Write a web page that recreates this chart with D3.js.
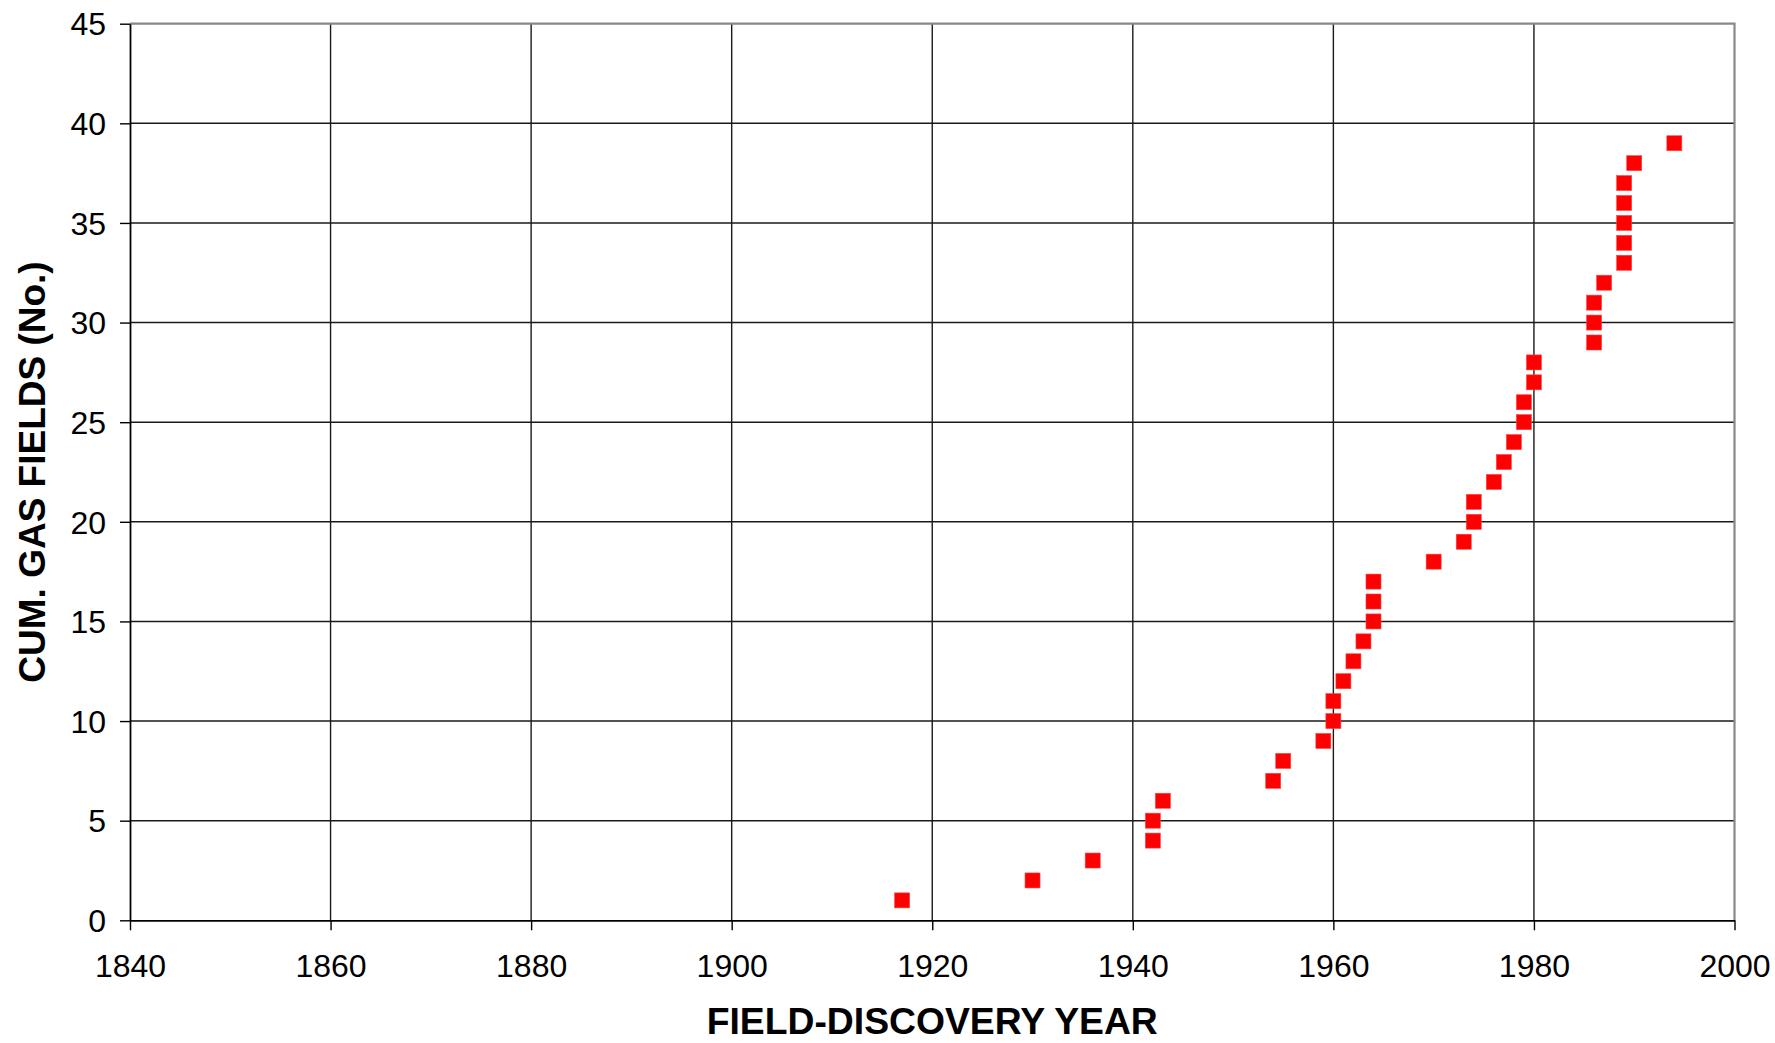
<!DOCTYPE html>
<html><head><meta charset="utf-8">
<script src="https://cdn.jsdelivr.net/npm/d3@7"></script>
<style>body{margin:0;background:#fff}svg{display:block}</style>
</head><body>
<script>
const years = [1917,1930,1936,1942,1942,1943,1954,1955,1959,1960,1960,1961,1962,1963,1964,1964,1964,1970,1973,1974,1974,1976,1977,1978,1979,1979,1980,1980,1986,1986,1986,1987,1989,1989,1989,1989,1989,1990,1994];
const cumFields = [1,2,3,4,5,6,7,8,9,10,11,12,13,14,15,16,17,18,19,20,21,22,23,24,25,26,27,28,29,30,31,32,33,34,35,36,37,38,39];
const xTicks = [1840,1860,1880,1900,1920,1940,1960,1980,2000];
const yTicks = [0,5,10,15,20,25,30,35,40,45];
const xTitle = "FIELD-DISCOVERY YEAR";
const yTitle = "CUM. GAS FIELDS (No.)";

const W=1775,H=1043;
const L=130,R=1734.5,T=23.7,B=920.3;
const svg=d3.select("body").append("svg").attr("width",W).attr("height",H);
const x=d3.scaleLinear().domain([1840,2000]).range([L,R]);
const y=d3.scaleLinear().domain([0,45]).range([B,T]);

// grid
svg.append("g").selectAll("line").data(yTicks.filter(d=>d>0&&d<45)).join("line")
 .attr("x1",L).attr("x2",R).attr("y1",d=>y(d)).attr("y2",d=>y(d))
 .attr("stroke","#1a1a1a").attr("stroke-width",1.4);
svg.append("g").selectAll("line").data(xTicks.filter(d=>d>1840&&d<2000)).join("line")
 .attr("y1",T).attr("y2",B).attr("x1",d=>x(d)).attr("x2",d=>x(d))
 .attr("stroke","#1a1a1a").attr("stroke-width",1.4);
// top/right border
svg.append("path").attr("d",`M${L},${T}H${R}V${B}`).attr("fill","none").attr("stroke","#888").attr("stroke-width",2.2);

// axes
const xAxis=d3.axisBottom(x).tickValues(xTicks).tickFormat(d3.format("d")).tickSize(10).tickSizeOuter(0).tickPadding(24);
const gx=svg.append("g").attr("transform",`translate(0,${B})`).call(xAxis);
const yAxis=d3.axisLeft(y).tickValues(yTicks).tickSize(10).tickSizeOuter(0).tickPadding(14);
const gy=svg.append("g").attr("transform",`translate(${L},0)`).call(yAxis);
[gx,gy].forEach(g=>{
 g.select(".domain").attr("stroke","#000").attr("stroke-width",1.8);
 g.selectAll(".tick line").attr("stroke","#000").attr("stroke-width",1.4);
 g.selectAll("text").attr("font-family","Liberation Sans, Arial, sans-serif").attr("font-size",32).attr("fill","#000");
});
gy.selectAll("text").attr("dy","0.35em");
gx.selectAll("text").attr("dy","0.71em");

// points
svg.append("g").selectAll("rect").data(years.map((d,i)=>[d,cumFields[i]])).join("rect")
 .attr("x",d=>x(d[0])-7.5).attr("y",d=>y(d[1])-7.5).attr("width",15).attr("height",15)
 .attr("fill","#ff0000").attr("stroke","#ff4040").attr("stroke-width",0.6);

// titles
svg.append("text").attr("x",(L+R)/2).attr("y",1034).attr("text-anchor","middle")
 .attr("font-family","Liberation Sans, Arial, sans-serif").attr("font-weight","bold").attr("font-size",37.3).text(xTitle);
svg.append("text").attr("transform",`translate(45,${(T+B)/2}) rotate(-90)`).attr("text-anchor","middle")
 .attr("font-family","Liberation Sans, Arial, sans-serif").attr("font-weight","bold").attr("font-size",37).text(yTitle);
</script>
</body></html>
